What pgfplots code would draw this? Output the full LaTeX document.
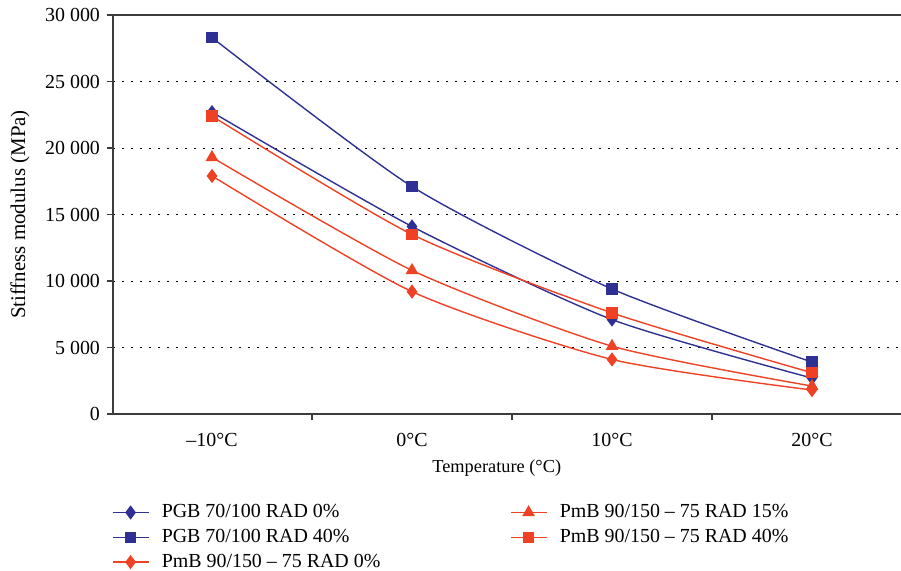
\documentclass[border=0pt]{standalone}
\usepackage{pgfplots}
\pgfplotsset{compat=1.18}
\usepackage{fontspec}
\setmainfont{Liberation Serif}
\usetikzlibrary{calc}
\definecolor{cblue}{RGB}{46,49,146}
\definecolor{cred}{RGB}{239,65,35}
\definecolor{axgray}{RGB}{60,60,60}
\begin{document}
\fontsize{10}{12}\selectfont
\begin{tikzpicture}
\begin{axis}[
  name=ax,
  scale only axis,
  width=394bp, height=199.5bp,
  xmin=-0.495, xmax=3.445,
  ymin=0, ymax=30000,
  axis x line*=bottom, axis y line*=left,
  axis line style={axgray, line width=0.6pt},
  tick style={axgray, line width=0.6pt},
  tick align=outside,
  major tick length=3bp,
  xtick={-0.5,0.5,1.5,2.5},
  xticklabels={},
  extra x ticks={0,1,2,3},
  extra x tick labels={\textendash10°C,0°C,10°C,20°C},
  extra x tick style={major tick length=0pt, grid=none, xticklabel style={yshift=-6bp}},
  ytick={0,5000,...,30000},
  scaled y ticks=false,
  yticklabel style={/pgf/number format/.cd, 1000 sep={\ }, assume math mode=true},
  /pgf/number format/assume math mode=true,
  ymajorgrids,
  grid style={black, line width=0.5pt, dash pattern=on 0.8bp off 3.7bp},
  xlabel={Temperature (°C)},
  ylabel={Stiffness modulus (MPa)},
  xlabel style={at={(rel axis cs:0.487,0)}, anchor=center, yshift=-27bp, font=\fontsize{9.2}{11}\selectfont},
  ylabel style={at={(rel axis cs:0,0.5)}, anchor=center, yshift=46.5bp, font=\fontsize{10.5}{12}\selectfont},
  legend columns=2,
  legend cell align=left,
  legend style={at={(rel axis cs:0,0)}, anchor=north west, xshift=-0.5bp, yshift=-43bp,
    draw=none, fill=none, inner sep=0pt, row sep=0.3bp,
    /tikz/every odd column/.append style={column sep=4.5bp},
    /tikz/column 2/.style={column sep=63bp}},
  legend image code/.code={\draw[mark repeat=2,mark phase=2] plot coordinates {(0bp,0bp) (8.75bp,0bp) (17.5bp,0bp)};},
  every axis plot/.append style={line width=0.7pt, smooth, tension=0.4},
  after end axis/.code={\draw[axgray, line width=0.6pt] (rel axis cs:0,1) -- (rel axis cs:1,1);},
]
% plotted in legend row order
\addplot[cblue, mark=diamond*, mark size=3bp] coordinates {(0,22700) (1,14100) (2,7100) (3,2700)};
\addlegendentry{PGB 70/100 RAD 0\%}
\addplot[cred, mark=triangle*, mark size=3bp] coordinates {(0,19300) (1,10800) (2,5100) (3,2100)};
\addlegendentry{PmB 90/150 \textendash{} 75 RAD 15\%}
\addplot[cblue, mark=square*, mark size=2.5bp] coordinates {(0,28300) (1,17100) (2,9400) (3,3900)};
\addlegendentry{PGB 70/100 RAD 40\%}
\addplot[cred, mark=square*, mark size=2.5bp] coordinates {(0,22400) (1,13500) (2,7600) (3,3100)};
\addlegendentry{PmB 90/150 \textendash{} 75 RAD 40\%}
\addplot[cred, mark=diamond*, mark size=3bp] coordinates {(0,17900) (1,9200) (2,4100) (3,1800)};
\addlegendentry{PmB 90/150 \textendash{} 75 RAD 0\%}
\end{axis}
\pgfresetboundingbox
\path ($(ax.south west)+(-56.5bp,-78.5bp)$) rectangle ($(ax.north east)+(0bp,7.5bp)$);
\end{tikzpicture}
\end{document}
